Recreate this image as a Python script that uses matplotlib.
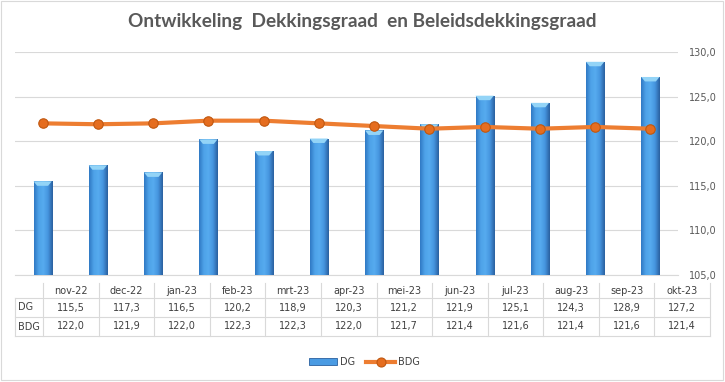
import matplotlib
matplotlib.use('Agg')
import matplotlib.pyplot as plt
import numpy as np
from matplotlib.colors import LinearSegmentedColormap
from matplotlib.lines import Line2D
from matplotlib.patches import Patch, Rectangle, Polygon
from matplotlib.ticker import FuncFormatter

months = ['nov-22', 'dec-22', 'jan-23', 'feb-23', 'mrt-23', 'apr-23',
          'mei-23', 'jun-23', 'jul-23', 'aug-23', 'sep-23', 'okt-23']
dg = [115.5, 117.3, 116.5, 120.2, 118.9, 120.3, 121.2, 121.9, 125.1, 124.3, 128.9, 127.2]
bdg = [122.0, 121.9, 122.0, 122.3, 122.3, 122.0, 121.7, 121.4, 121.6, 121.4, 121.6, 121.4]
yticks = [105, 110, 115, 120, 125, 130]
title = 'Ontwikkeling  Dekkingsgraad  en Beleidsdekkingsgraad'

W, H = 725, 382
fig = plt.figure(figsize=(W / 100, H / 100), dpi=100)


def fx(px):
    return px / W


def fy(py):
    return 1 - py / H


def fmt(v):
    return f'{v:.1f}'.replace('.', ',')


txt = '#404040'
grid = '#d9d9d9'

ax = fig.add_axes([fx(15), fy(275), fx(678) - fx(15), fy(52) - fy(275)])
x = np.arange(len(months))
bars = ax.bar(x, dg, width=0.33, color='#4a9be3', zorder=2)

# cylinder-ish shading on the bars
cmap = LinearSegmentedColormap.from_list(
    'cyl', ['#3079c4', '#4ea2e8', '#56abef', '#4594de', '#2a609f'])
grad = np.linspace(0, 1, 64).reshape(1, -1)
for b, v in zip(bars, dg):
    x0, w = b.get_x(), b.get_width()
    im = ax.imshow(grad, cmap=cmap, aspect='auto',
                   extent=(x0, x0 + w, 105, v), zorder=3)
    im.set_clip_path(b)
    cap = Polygon([(x0, v), (x0 + w, v), (x0 + w * 0.8, v - 0.5), (x0 + w * 0.2, v - 0.5)],
                  closed=True, facecolor='#93d4f7', edgecolor='none', zorder=4)
    ax.add_patch(cap)

ax.plot(x, bdg, color='#ed7d31', lw=3, marker='o', ms=6.8,
        mfc='#e56d1f', mec='#c0570f', mew=0.8, zorder=5)

ax.set_xlim(-0.5, len(months) - 0.5)
ax.set_ylim(105, 130)
ax.set_yticks(yticks)
ax.yaxis.set_major_formatter(FuncFormatter(lambda v, p: fmt(v)))
ax.yaxis.grid(True, color=grid, lw=0.8)
ax.set_axisbelow(True)
ax.set_xticks([])
ax.tick_params(axis='y', length=0, pad=8, labelsize=7, labelcolor='#595959',
               left=False, labelleft=False, right=False, labelright=True)
for s in ['top', 'left', 'right']:
    ax.spines[s].set_visible(False)
ax.spines['bottom'].set_color(grid)
ax.spines['bottom'].set_linewidth(0.8)

# data table under the chart
col0, col1 = 43, 710
cw = (col1 - col0) / len(months)
rows_y = [283, 298, 317, 336]
lc = dict(color=grid, lw=0.8, transform=fig.transFigure)
for yy in rows_y[1:]:
    fig.add_artist(Line2D([fx(15), fx(col1)], [fy(yy), fy(yy)], **lc))
fig.add_artist(Line2D([fx(15), fx(15)], [fy(298), fy(336)], **lc))
for i in range(len(months) + 1):
    xx = col0 + i * cw
    fig.add_artist(Line2D([fx(xx), fx(xx)], [fy(283), fy(336)], **lc))

for i, m in enumerate(months):
    cx = fx(col0 + (i + 0.5) * cw)
    fig.text(cx, fy(290.5), m, ha='center', va='center', fontsize=7, color=txt)
    fig.text(cx, fy(307.5), fmt(dg[i]), ha='center', va='center', fontsize=7, color=txt)
    fig.text(cx, fy(326.5), fmt(bdg[i]), ha='center', va='center', fontsize=7, color=txt)
fig.text(fx(18), fy(307.5), 'DG', ha='left', va='center', fontsize=7, color=txt)
fig.text(fx(18), fy(326.5), 'BDG', ha='left', va='center', fontsize=7, color=txt)

fig.text(0.5, fy(22), title, ha='center', va='center', fontsize=13.7,
         fontweight='bold', color='#595959', family='Lato')

handles = [Patch(facecolor='#4a9be3', edgecolor='#2a609f', lw=0.6),
           Line2D([], [], color='#ed7d31', lw=3, marker='o', ms=6.5,
                  mfc='#e56d1f', mec='#c0570f', mew=0.8)]
fig.legend(handles, ['DG', 'BDG'], loc='center', bbox_to_anchor=(fx(364), fy(362)),
           ncol=2, frameon=False, fontsize=7, handlelength=2.9, handleheight=0.6,
           handletextpad=0.3, columnspacing=1.2, labelcolor=txt)

fig.add_artist(Rectangle((fx(1), fy(380)), fx(722), fy(1) - fy(380), fill=False,
                         edgecolor=grid, lw=0.8, transform=fig.transFigure))

fig.savefig('out.png', dpi=100)
